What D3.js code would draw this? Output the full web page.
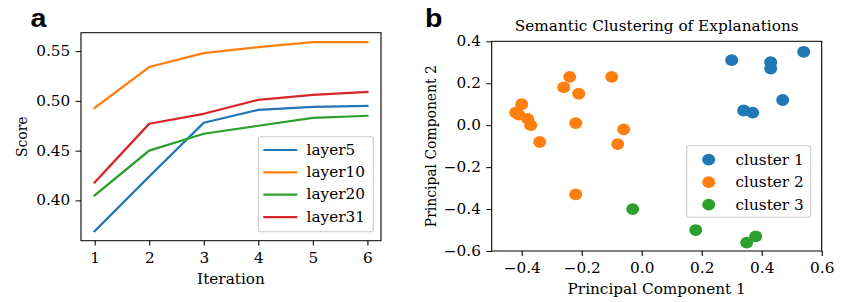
<!DOCTYPE html>
<html>
<head>
<meta charset="utf-8">
<script src="https://cdn.jsdelivr.net/npm/d3@7"></script>
<style>
  html, body { margin: 0; padding: 0; background: #fff; }
  svg { display: block; }
  text { font-family: "DejaVu Serif", serif; fill: #000; }
  text.panel { font-family: "Liberation Sans", Arial, sans-serif; font-weight: bold; }
</style>
</head>
<body>
<script>
// ---------- data ----------
const iterations = [1, 2, 3, 4, 5, 6];
const layer5  = [0.369, 0.424, 0.478, 0.491, 0.494, 0.495];
const layer10 = [0.493, 0.534, 0.548, 0.554, 0.559, 0.559];
const layer20 = [0.405, 0.450, 0.467, 0.475, 0.483, 0.485];
const layer31 = [0.418, 0.477, 0.487, 0.501, 0.506, 0.509];
const layerNames = ["layer5", "layer10", "layer20", "layer31"];
const scoreTicks = [0.40, 0.45, 0.50, 0.55];

const cluster1X = [0.30, 0.54, 0.43, 0.43, 0.47, 0.34, 0.37];
const cluster1Y = [0.31, 0.35, 0.30, 0.27, 0.12, 0.07, 0.06];
const cluster2X = [-0.24, -0.26, -0.21, -0.10, -0.40, -0.42, -0.41, -0.38, -0.37, -0.34, -0.22, -0.06, -0.08, -0.22];
const cluster2Y = [0.23, 0.18, 0.15, 0.23, 0.10, 0.06, 0.05, 0.03, 0.00, -0.08, 0.01, -0.02, -0.09, -0.33];
const cluster3X = [-0.03, 0.18, 0.35, 0.38];
const cluster3Y = [-0.40, -0.50, -0.56, -0.53];
const clusterNames = ["cluster 1", "cluster 2", "cluster 3"];
const pcXTicks = [-0.4, -0.2, 0.0, 0.2, 0.4, 0.6];
const pcYTicks = [-0.6, -0.4, -0.2, 0.0, 0.2, 0.4];

const colors = ["#1f77b4", "#ff7f0e", "#2ca02c", "#d62728"];

// ---------- setup (figure is stretched horizontally) ----------
const W = 847, H = 302, SX = 1.1;
const X = px => px / SX;
const FS = 13.9, TICK = 4.9;

const svg = d3.select("body").append("svg")
  .attr("width", W).attr("height", H)
  .attr("viewBox", `0 0 ${W / SX} ${H}`)
  .attr("preserveAspectRatio", "none");

const fmtMinus = f => (d => f(d).replace("-", "\u2212"));

function styleAxis(g) {
  g.select(".domain").remove();
  g.selectAll(".tick line").attr("stroke", "#000").attr("stroke-width", 1.0);
  g.selectAll(".tick text").attr("font-size", FS).attr("font-family", "DejaVu Serif").attr("fill", "#000");
}

// ---------- panel a ----------
const A = { l: X(81), r: X(381), t: 32.7, b: 240.7 };
const allScores = [].concat(layer5, layer10, layer20, layer31);
const [smin, smax] = d3.extent(allScores);
const spad = (smax - smin) * 0.05;
const xA = d3.scaleLinear().domain([0.75, 6.25]).range([A.l, A.r]);
const yA = d3.scaleLinear().domain([smin - spad, smax + spad]).range([A.b, A.t]);

const gA = svg.append("g");
const series = [layer5, layer10, layer20, layer31];
const line = d3.line().x((d, i) => xA(iterations[i])).y(d => yA(d));
series.forEach((s, k) => {
  gA.append("path").datum(s).attr("d", line)
    .attr("fill", "none").attr("stroke", colors[k]).attr("stroke-width", 2.2)
    .attr("stroke-linejoin", "round").attr("stroke-linecap", "square");
});

gA.append("g").attr("transform", `translate(0,${A.b})`)
  .call(d3.axisBottom(xA).tickValues(iterations).tickFormat(d3.format("d")).tickSize(TICK).tickPadding(7.4))
  .call(styleAxis);
gA.append("g").attr("transform", `translate(${A.l},0)`)
  .call(d3.axisLeft(yA).tickValues(scoreTicks).tickFormat(d3.format(".2f")).tickSize(TICK).tickPadding(4.9))
  .call(styleAxis);
gA.append("rect").attr("x", A.l).attr("y", A.t).attr("width", A.r - A.l).attr("height", A.b - A.t)
  .attr("fill", "none").attr("stroke", "#000").attr("stroke-width", 1.0);

// legend a
const LA = { x0: X(258.3), x1: X(373.3), y0: 136.7, y1: 231.7 };
gA.append("rect").attr("x", LA.x0).attr("y", LA.y0).attr("width", LA.x1 - LA.x0).attr("height", LA.y1 - LA.y0)
  .attr("rx", 2.5).attr("ry", 2.5)
  .attr("fill", "#fff").attr("fill-opacity", 0.8).attr("stroke", "#cccccc").attr("stroke-width", 1);
const legAy = [150, 172.3, 194.6, 217.1];
layerNames.forEach((n, k) => {
  gA.append("line").attr("x1", X(263.3)).attr("x2", X(297.3)).attr("y1", legAy[k]).attr("y2", legAy[k])
    .attr("stroke", colors[k]).attr("stroke-width", 2.2);
  gA.append("text").attr("x", X(306.5)).attr("y", legAy[k] + 4.9).attr("font-size", FS).text(n);
});

gA.append("text").attr("x", X(231)).attr("y", 284.3).attr("text-anchor", "middle").attr("font-size", FS).text("Iteration");
gA.append("text").attr("transform", `translate(${X(27)},${(A.t + A.b) / 2}) rotate(-90)`)
  .attr("text-anchor", "middle").attr("font-size", FS).text("Score");
svg.append("text").attr("class", "panel").attr("x", X(30.5)).attr("y", 27)
  .attr("font-size", 26).text("a");

// ---------- panel b ----------
const B = { l: X(491.7), r: X(821.7), t: 41.3, b: 251 };
const xB = d3.scaleLinear().domain([-0.5, 0.6]).range([B.l, B.r]);
const yB = d3.scaleLinear().domain([-0.6, 0.4]).range([B.b, B.t]);
const gB = svg.append("g");

gB.append("g").attr("transform", `translate(0,${B.b})`)
  .call(d3.axisBottom(xB).tickValues(pcXTicks).tickFormat(fmtMinus(d3.format(".1f"))).tickSize(TICK).tickPadding(7.4))
  .call(styleAxis);
gB.append("g").attr("transform", `translate(${B.l},0)`)
  .call(d3.axisLeft(yB).tickValues(pcYTicks).tickFormat(fmtMinus(d3.format(".1f"))).tickSize(TICK).tickPadding(4.9))
  .call(styleAxis);

const clusters = [[cluster1X, cluster1Y], [cluster2X, cluster2Y], [cluster3X, cluster3Y]];
const R = 5.9;
clusters.forEach(([xs, ys], k) => {
  gB.append("g").selectAll("circle").data(xs).join("circle")
    .attr("cx", d => xB(d)).attr("cy", (d, i) => yB(ys[i])).attr("r", R)
    .attr("fill", colors[k]);
});
gB.append("rect").attr("x", B.l).attr("y", B.t).attr("width", B.r - B.l).attr("height", B.b - B.t)
  .attr("fill", "none").attr("stroke", "#000").attr("stroke-width", 1.0);

// legend b
const LB = { x0: X(686.7), x1: X(810.7), y0: 145.7, y1: 217.3 };
gB.append("rect").attr("x", LB.x0).attr("y", LB.y0).attr("width", LB.x1 - LB.x0).attr("height", LB.y1 - LB.y0)
  .attr("rx", 2.5).attr("ry", 2.5)
  .attr("fill", "#fff").attr("fill-opacity", 0.8).attr("stroke", "#cccccc").attr("stroke-width", 1);
const legBy = [159.7, 182.2, 204.7];
clusterNames.forEach((n, k) => {
  gB.append("circle").attr("cx", X(708.7)).attr("cy", legBy[k]).attr("r", R).attr("fill", colors[k]);
  gB.append("text").attr("x", X(735.5)).attr("y", legBy[k] + 4.9).attr("font-size", FS).text(n);
});

gB.append("text").attr("x", (B.l + B.r) / 2).attr("y", 31).attr("text-anchor", "middle").attr("font-size", FS)
  .text("Semantic Clustering of Explanations");
gB.append("text").attr("x", (B.l + B.r) / 2).attr("y", 294.3).attr("text-anchor", "middle").attr("font-size", FS)
  .text("Principal Component 1");
gB.append("text").attr("transform", `translate(${X(436)},${(B.t + B.b) / 2}) rotate(-90)`)
  .attr("text-anchor", "middle").attr("font-size", FS).text("Principal Component 2");
svg.append("text").attr("class", "panel").attr("x", X(425)).attr("y", 27)
  .attr("font-size", 26).text("b");
</script>
</body>
</html>
